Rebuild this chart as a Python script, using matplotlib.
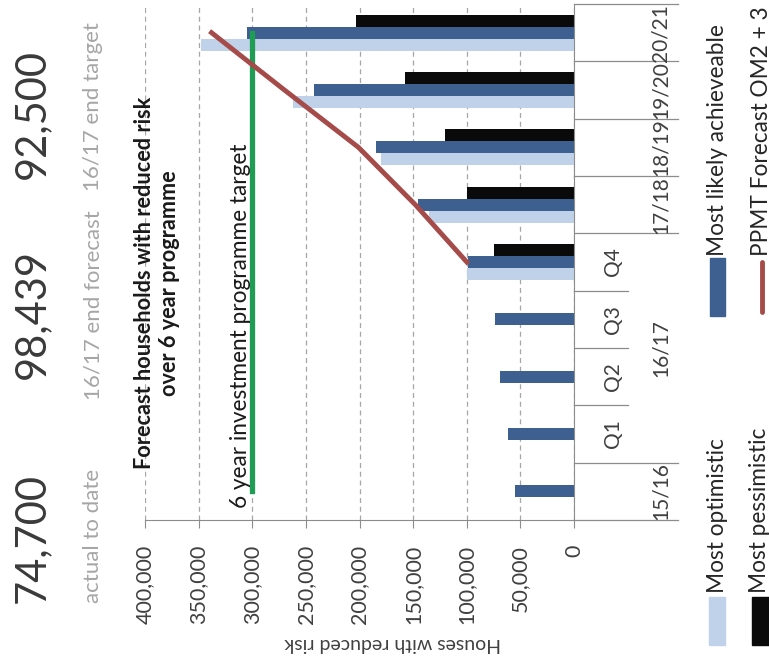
import matplotlib.pyplot as plt
import matplotlib.transforms as mtransforms
from matplotlib.patches import Rectangle
from matplotlib.lines import Line2D
from matplotlib.ticker import FuncFormatter
import numpy as np

plt.rcParams['font.family'] = ['Lato', 'DejaVu Sans']

# categories, bottom to top in the (rotated) picture
categories = ['15/16', 'Q1', 'Q2', 'Q3', 'Q4', '17/18', '18/19', '19/20', '20/21']
quarter_group = '16/17'
nan = np.nan

optimistic = [nan, nan, nan, nan, 100000, 135000, 180000, 262000, 348000]
likely = [55000, 62000, 69000, 74000, 98439, 145000, 185000, 242000, 305000]
pessimistic = [nan, nan, nan, nan, 74700, 100000, 120000, 158000, 203000]
ppmt_forecast = [nan, nan, nan, nan, 100000, 148000, 201000, 270000, 338000]
programme_target = [300000, 300000, 300000, 300000, 300000, 300000, 300000, 300000, 300000]

headline_values = ['74,700', '98,439', '92,500']
headline_captions = ['actual to date', '16/17 end forecast', '16/17 end target']

LIGHT = '#c0d2ea'
DARK = '#3d6090'
BLACK = '#0a0a0a'
RED = '#a54b49'
GREEN = '#1f9d55'
AXIS = '#8c8c8c'

W, H = 769, 668
fig = plt.figure(figsize=(W / 100, H / 100), dpi=100)


def fx(px):
    return px / W


def fy(py):
    return 1 - py / H


ax = fig.add_axes([fx(145), fy(520), (574 - 145) / W, (520 - 4) / H])

y = np.arange(len(categories))
bh = 0.21
ax.barh(y - bh, optimistic, height=bh, color=LIGHT, zorder=2)
ax.barh(y, likely, height=bh, color=DARK, zorder=2)
ax.barh(y + bh, pessimistic, height=bh, color=BLACK, zorder=2)
ax.plot(programme_target, y, color=GREEN, lw=3.8, solid_capstyle='projecting', zorder=3)
ax.plot(ppmt_forecast, y, color=RED, lw=3.5, zorder=4)

ax.set_xlim(400000, 0)
ax.set_ylim(-0.5, len(categories) - 0.5)
ax.set_xticks(np.arange(0, 400001, 50000))
ax.xaxis.set_major_formatter(FuncFormatter(lambda v, p: f'{int(v):,}'))
ax.tick_params(axis='x', rotation=90, labelsize=15.5, labelcolor='#404040',
               length=6, color=AXIS, pad=12)
ax.set_yticks([])
ax.grid(axis='x', linestyle=(0, (4, 3)), color='#a6a6a6', lw=0.9)
ax.set_axisbelow(True)
for side in ['top', 'left']:
    ax.spines[side].set_visible(False)
for side in ['right', 'bottom']:
    ax.spines[side].set_color(AXIS)

# multi-level category axis
trans = mtransforms.blended_transform_factory(ax.transAxes, ax.transData)
x_short = (628 - 145) / 429
x_long = (678 - 145) / 429
for b in [1.5, 2.5, 3.5]:
    ax.plot([1, x_short], [b, b], transform=trans, color=AXIS, lw=0.9, clip_on=False)
for b in [-0.5, 0.5, 4.5, 5.5, 6.5, 7.5, 8.5]:
    ax.plot([1, x_long], [b, b], transform=trans, color=AXIS, lw=0.9, clip_on=False)

x_inner = (613 - 145) / 429
x_outer = (661 - 145) / 429
for i, lab in enumerate(categories):
    xpos = x_inner if lab.startswith('Q') else x_outer
    ax.text(xpos, i, lab, transform=trans, rotation=90, ha='center', va='center',
            fontsize=15, color='#404040')
ax.text(x_outer, 2.5, quarter_group, transform=trans, rotation=90, ha='center',
        va='center', fontsize=15, color='#404040')

# headline numbers
for (val, cap, yc, yc2) in zip(headline_values, headline_captions,
                               [538, 314, 114], [536, 305, 107]):
    fig.text(fx(32), fy(yc), val, rotation=90, ha='center', va='center',
             rotation_mode='anchor', fontsize=30, color='#3a3a3a')
    fig.text(fx(93), fy(yc2), cap, rotation=90, ha='center', va='center',
             rotation_mode='anchor', fontsize=16, color='#a6a6a6')

fig.text(fx(157), fy(283), 'Forecast households with reduced risk\nover 6 year programme',
         rotation=90, ha='center', va='center', rotation_mode='anchor',
         multialignment='center', fontsize=15.6, fontweight='bold', color='#1a1a1a',
         linespacing=1.2)
fig.text(fx(240), fy(326), '6 year investment programme target', rotation=90,
         ha='center', va='center', rotation_mode='anchor', fontsize=16.3, color='#1a1a1a')
fig.text(fx(393), fy(643), 'Houses with reduced risk', rotation=180, ha='center',
         va='center', rotation_mode='anchor', fontsize=14, color='#404040')

# legend (rotated)
fig.add_artist(Rectangle((fx(709), fy(645)), 16 / W, 48 / H, transform=fig.transFigure,
                         color=LIGHT))
fig.add_artist(Rectangle((fx(752), fy(645)), 17 / W, 48 / H, transform=fig.transFigure,
                         color=BLACK))
fig.add_artist(Rectangle((fx(710), fy(316)), 15 / W, 58 / H, transform=fig.transFigure,
                         color=DARK))
fig.add_artist(Line2D([fx(762), fx(762)], [fy(312), fy(262)], transform=fig.transFigure,
                      color=RED, lw=3.5, solid_capstyle='round'))
legend_items = [('Most optimistic', 717, 593), ('Most pessimistic', 759, 593),
                ('Most likely achieveable', 717, 256), ('PPMT Forecast OM2 + 3', 762, 256)]
for txt, xp, yp in legend_items:
    fig.text(fx(xp), fy(yp), txt, rotation=90, ha='left', va='center',
             rotation_mode='anchor', fontsize=16.3, color='#262626')

fig.savefig('out.png', dpi=100)
